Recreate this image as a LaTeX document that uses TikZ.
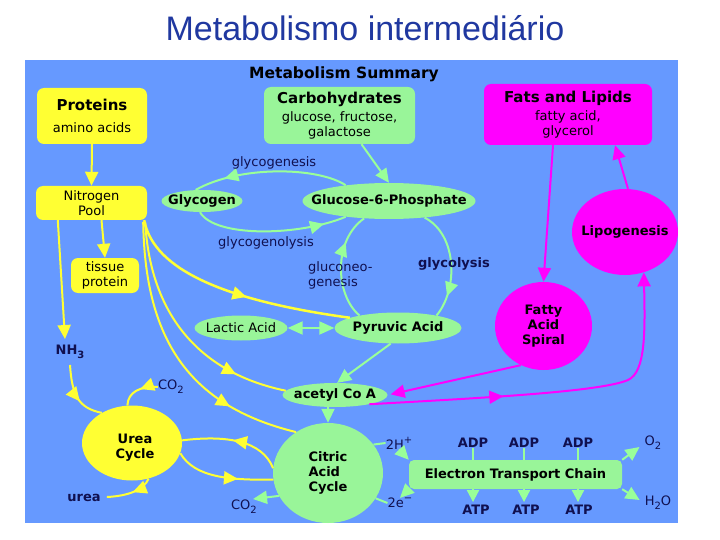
\documentclass[tikz,border=0pt]{standalone}
\usepackage{fontspec}
\setmainfont{DejaVu Sans}
\newfontfamily\titlefont{Liberation Sans}
\usetikzlibrary{calc, positioning}
\usetikzlibrary{arrows.meta}
\usetikzlibrary{shapes.geometric}
\usetikzlibrary{decorations.markings}

\definecolor{panelblue}{RGB}{102,153,255}
\definecolor{boxyellow}{RGB}{255,255,51}
\definecolor{boxgreen}{RGB}{153,245,153}
\definecolor{linegreen}{RGB}{153,255,153}
\definecolor{boxmagenta}{RGB}{255,0,255}
\definecolor{titleblue}{RGB}{32,56,160}
\definecolor{labelnavy}{RGB}{16,16,80}

% lowered and raised small characters in the chemical labels
\newcommand{\lowch}[1]{\raisebox{-0.3em}{\fontsize{10}{12}\selectfont #1}}
\newcommand{\highch}[1]{\raisebox{0.45em}{\fontsize{10}{12}\selectfont #1}}

\begin{document}
\begin{tikzpicture}[x=1pt, y=-1pt,
  every node/.style={inner sep=0pt, font=\fontsize{13}{15}\selectfont},
  boldtxt/.style={font=\bfseries\fontsize{13}{15}\selectfont},
  lbl/.style={text=labelnavy},
  ybox/.style={fill=boxyellow, rounded corners=7pt, align=center},
  gbox/.style={fill=boxgreen, rounded corners=7pt, align=center},
  mbox/.style={fill=boxmagenta, rounded corners=7pt, align=center},
  gell/.style={ellipse, fill=boxgreen},
  yell/.style={ellipse, fill=boxyellow},
  mell/.style={ellipse, fill=boxmagenta},
  yline/.style={draw=boxyellow, line width=2pt},
  gline/.style={draw=linegreen, line width=2pt},
  mline/.style={draw=boxmagenta, line width=2pt},
  headend/.style={-{Triangle[length=14pt,width=13pt]}},
  midhead/.style={postaction={decorate}, decoration={markings,
    mark=at position #1 with {\arrow{Triangle[length=14pt,width=13pt]}}}}
]
\useasboundingbox (0,0) rectangle (720,540);
\fill[white] (0,0) rectangle (720,540);

% Title
\node[text=titleblue, font=\titlefont\fontsize{34}{40}\selectfont] (title) at (365,28) {Metabolismo intermediário};

% Panel
\fill[panelblue] (25,60) rectangle (678,523);

\begin{scope}
\clip (25,60) rectangle (678,523);

\node[font=\bfseries\fontsize{15.5}{17}\selectfont] (summary) at (344,74) {Metabolism Summary};

% Boxes
\node[ybox, minimum width=110pt, minimum height=56pt] (prot) at (92,116)
  {{\bfseries\fontsize{15}{17}\selectfont Proteins}\\[7pt] amino acids};
\node[gbox, minimum width=151pt, minimum height=57pt] (carb) at (339.5,115.5)
  {{\bfseries\fontsize{15}{17}\selectfont Carbohydrates}\\[3pt] glucose, fructose,\\ galactose};
\node[mbox, minimum width=168pt, minimum height=61pt] (fats) at (568,114.5)
  {{\bfseries\fontsize{15}{17}\selectfont Fats and Lipids}\\[3pt] fatty acid,\\ glycerol};
\node[ybox, minimum width=111pt, minimum height=34pt] (npool) at (91.5,203) {Nitrogen\\ Pool};
\node[ybox, minimum width=68pt, minimum height=35pt] (tissue) at (105,275.5) {tissue\\ protein};
\node[gbox, rounded corners=5pt, minimum width=213pt, minimum height=29pt, boldtxt] (etc) at (515.5,474.5) {Electron Transport Chain};

% Ellipses
\node[gell, minimum width=81pt, minimum height=22pt, label={[boldtxt]center:Glycogen}] (glycogen) at (202,201) {};
\node[gell, minimum width=173pt, minimum height=36pt, label={[boldtxt]center:Glucose-6-Phosphate}] (g6p) at (389,201) {};
\node[gell, minimum width=93pt, minimum height=25pt, label={center:Lactic Acid}] (lactic) at (241,328) {};
\node[gell, minimum width=127pt, minimum height=31pt, label={[boldtxt]center:Pyruvic Acid}] (pyruvic) at (398,328) {};
\node[gell, minimum width=105pt, minimum height=24pt, label={[boldtxt]center:acetyl Co A}] (acetyl) at (335,395) {};
\node[gell, minimum width=110pt, minimum height=100pt, label={[boldtxt, align=left]center:Citric\\Acid\\Cycle}] (citric) at (328,473) {};
\node[yell, minimum width=100pt, minimum height=75pt, label={[boldtxt, align=center, xshift=3pt, yshift=-5pt]center:Urea\\Cycle}] (urea) at (132,443) {};
\node[mell, minimum width=106pt, minimum height=86pt, label={[boldtxt]center:Lipogenesis}] (lipo) at (625,232) {};
\node[mell, minimum width=97pt, minimum height=88pt, label={[boldtxt, align=center]center:Fatty\\Acid\\Spiral}] (fas) at (543.5,326) {};

% Small labels
\node[lbl, boldtxt] (nh3) at (70,352) {NH\lowch{\bfseries 3}};
\node[lbl] (co2a) at (171,387) {CO\lowch{2}};
\node[lbl, boldtxt] (urealbl) at (84,498) {urea};
\node[lbl] (co2b) at (244,507) {CO\lowch{2}};
\node[lbl] (h2) at (399,443) {2H\highch{+}};
\node[lbl] (e2) at (400,503) {2e\highch{−}};
\node[lbl, boldtxt] (adp1) at (473,443) {ADP};
\node[lbl, boldtxt] (adp2) at (524,443) {ADP};
\node[lbl, boldtxt] (adp3) at (578,443) {ADP};
\node[lbl, boldtxt] (atp1) at (476,510) {ATP};
\node[lbl, boldtxt] (atp2) at (526,510) {ATP};
\node[lbl, boldtxt] (atp3) at (579,510) {ATP};
\node[lbl] (o2) at (653,443) {O\lowch{2}};
\node[lbl] (h2o) at (658,503) {H\lowch{2}O};

% Nitrogen (yellow) connectors
\draw[yline, headend] (prot.south) -- (npool.north);
\draw[yline, headend] ($(npool.south)+(10,0)$) -- (tissue.north);
\draw[yline, headend] ($(npool.south west)+(22,0)$) -- ($(nh3.north)+(-5,-6)$);
\draw[yline, midhead=0.6] ($(nh3.south)+(0,6)$) .. controls (72,395) and (78,408) .. (urea.135);
\draw[yline, midhead=0.45] (co2a.west) .. controls (140,386) and (128,392) .. (urea.97);
\draw[yline, midhead=0.45] (urea.-65) .. controls (144,490) and (128,496) .. ($(urealbl.east)+(6,-1)$);
\draw[yline, line width=2.5pt, midhead=0.56] ($(npool.south east)+(-3,0)$) .. controls (152,262) and (205,298) .. (pyruvic.168);
\draw[yline, midhead=0.78] ($(npool.south east)+(-2,2)$) .. controls (150,310) and (195,372) .. (acetyl.175);
\draw[yline, midhead=0.75] ($(npool.south east)+(-4,2)$) .. controls (145,335) and (185,405) .. (citric.128);
\draw[yline, midhead=0.5] (citric.175) .. controls (262,440) and (225,435) .. (urea.3);
\draw[yline, midhead=0.65] (urea.-12) .. controls (195,478) and (230,480) .. (citric.187);

% Carbohydrate (green) connectors
\draw[gline, headend] ($(carb.south)+(22,0)$) -- (g6p.north);
\draw[gline, midhead=0.8] (g6p.160) .. controls (318,167) and (240,165) .. (glycogen.120);
\draw[gline, midhead=0.85] (glycogen.-100) .. controls (215,238) and (300,236) .. (g6p.-160);
\draw[gline, midhead=0.72] (pyruvic.162) .. controls (335,295) and (333,240) .. (g6p.-145);
\draw[gline, midhead=0.8] (g6p.-25) .. controls (458,235) and (458,290) .. (pyruvic.18);
\draw[gline, {Triangle[length=15pt,width=13pt]}-{Triangle[length=15pt,width=13pt]}] (lactic.east) -- (pyruvic.west);
\draw[gline, headend] (pyruvic.-115) -- (acetyl.80);
\draw[gline, headend] (acetyl.south -| citric.north) -- (citric.north);
\draw[gline] (citric.32) -- (h2.west);
\draw[gline, headend] (h2.south) -- (etc.north west);
\draw[gline, headend] (etc.south west) -- (e2.north);
\draw[gline] (e2.west) -- (citric.-28);
\draw[gline, headend] (citric.-155) -- ($(co2b.north east)+(-4,-1)$);

% Electron transport chain
\foreach \i in {1,2,3}{
  \draw[gline] (adp\i.south) -- (adp\i.south |- etc.north);
  \draw[gline, -{Triangle[length=12pt,width=12pt]}, shorten >=3pt] (adp\i |- etc.south) -- (adp\i |- atp\i.north);
}
\draw[gline, -{Triangle[length=14pt,width=13pt]}] (etc.north east) -- ($(o2.west)+(-5,4)$);
\draw[gline, -{Triangle[length=14pt,width=13pt]}] (etc.south east) -- ($(h2o.west)+(-5,-3)$);

% Fat (magenta) connectors
\draw[mline, headend] ($(lipo.north)+(3,0)$) -- ($(fats.south)+(47,0)$);
\draw[mline, headend] ($(fats.south)+(-15,0)$) -- (fas.north);
\draw[mline, headend, shorten >=3pt] (fas.-120) -- (acetyl.east);
\draw[mline, midhead=0.36, headend] (acetyl.-15)
  .. controls (480,398) and (600,392) .. (628,380)
  .. controls (646,372) and (645,330) .. (lipo.-65);

% Pathway names, on top of the lines
\node[lbl] (lglycogenesis) at (274,163) {glycogenesis};
\node[lbl] (lglycogenolysis) at (266,243) {glycogenolysis};
\node[lbl, align=left, anchor=west] (lgluconeo) at (308,275) {gluconeo-\\genesis};
\node[lbl, boldtxt] (lglycolysis) at (454,264) {glycolysis};
\end{scope}
\end{tikzpicture}
\end{document}
